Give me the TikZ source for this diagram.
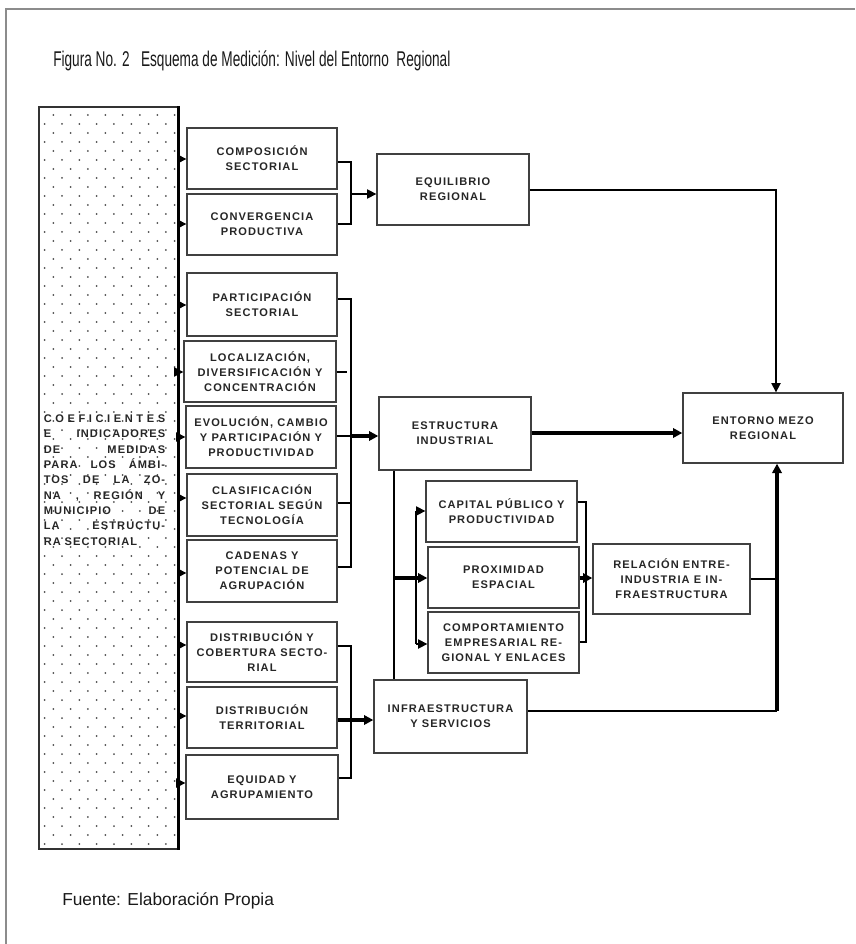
\documentclass[tikz,border=0pt]{standalone}
\usepackage{fontspec}
\setmainfont{Liberation Sans}
\newfontfamily\bxfont[LetterSpace=10]{Liberation Sans}
\usepackage{graphicx}
\usetikzlibrary{arrows.meta}
\tikzset{
  bx/.style={draw=black!75, line width=1pt, rectangle, inner sep=0pt, align=center,
    text=black!85, font=\bxfont\bfseries\fontsize{8.3}{11.25}\selectfont},
  sz/.style 2 args={minimum width=#1*0.75pt, minimum height=#2*0.75pt},
  ln/.style={line width=1.1pt, black},
  thk/.style={line width=2.3pt, black},
  arr/.style={-{Triangle[length=7pt,width=7pt]}},
  dotc/.style={fill=black!70},
}
\newcommand{\hf}{\hspace{0pt plus 1fill}}
\begin{document}
\begin{tikzpicture}[x=0.75pt,y=-0.75pt]
\useasboundingbox (0,0) rectangle (855,944);
% frame
\draw[black!45, line width=1.5pt] (6,944) -- (6,9) -- (855,9);
% title
\node[anchor=base west, inner sep=0pt, text=black!90] (title) at (53,67)
  {\scalebox{0.64}[1]{\fontsize{16}{18}\selectfont Figura No. 2\ \ \ Esquema de Medición: Nivel del Entorno\ \ Regional}};
% big left box
\node[draw=black!80, line width=1pt, rectangle, inner sep=0pt, sz={139}{742}] (L) at (108.5,478) {};
\foreach \j in {0,...,81}{
  \pgfmathsetmacro\yy{115+9*\j}
  \pgfmathsetmacro\xo{mod(\j,2)==0 ? 53.3 : 44.67}
  \foreach \k in {0,...,7}{
    \fill[dotc] ({\xo+17.33*\k},\yy) circle[radius=0.75pt];
  }
}
\draw[thk] (L.north east) -- (L.south east);
\node[inner sep=0pt, text width=91pt, text=black!85,
  font=\bxfont\bfseries\fontsize{8.3}{11.5}\selectfont] (Ltxt) at (104.5,480) {%
\makebox[\linewidth][s]{C\hf O\hf E\hf F\hf I\hf C\hf I\hf E\hf N\hf T\hf E\hf S}\\
\makebox[\linewidth][s]{E\hf INDICADORES}\\
\makebox[\linewidth][s]{DE\hf MEDIDAS}\\
\makebox[\linewidth][s]{PARA\hf LOS\hf ÁMBI-}\\
\makebox[\linewidth][s]{TOS\hf DE\hf LA\hf ZO-}\\
\makebox[\linewidth][s]{NA\hf ,\hf REGIÓN\hf Y}\\
\makebox[\linewidth][s]{MUNICIPIO\hf DE}\\
\makebox[\linewidth][s]{LA\hf ESTRUCTU-}\\
\makebox[\linewidth][l]{RA\ SECTORIAL}};
% small boxes column
\node[bx, sz={150}{61}] (c1) at (262,158.5) {COMPOSICIÓN\\SECTORIAL};
\node[bx, sz={150}{61}] (c2) at (262,224.5) {CONVERGENCIA\\PRODUCTIVA};
\node[bx, sz={150}{63}] (c3) at (262,304.5) {PARTICIPACIÓN\\SECTORIAL};
\node[bx, sz={152}{61}] (c4) at (260,371.5) {LOCALIZACIÓN,\\DIVERSIFICACIÓN Y\\CONCENTRACIÓN};
\node[bx, sz={150}{62}] (c5) at (261,437) {EVOLUCIÓN, CAMBIO\\Y PARTICIPACIÓN Y\\PRODUCTIVIDAD};
\node[bx, sz={150}{62}] (c6) at (262,505) {CLASIFICACIÓN\\SECTORIAL SEGÚN\\TECNOLOGÍA};
\node[bx, sz={150}{62}] (c7) at (262,571) {CADENAS Y\\POTENCIAL DE\\AGRUPACIÓN};
\node[bx, sz={150}{60}] (c8) at (262,652) {DISTRIBUCIÓN Y\\COBERTURA SECTO-\\RIAL};
\node[bx, sz={150}{61}] (c9) at (262,717.5) {DISTRIBUCIÓN\\TERRITORIAL};
\node[bx, sz={152}{64}] (c10) at (262,787) {EQUIDAD Y\\AGRUPAMIENTO};
% middle boxes
\node[bx, sz={152}{71}] (eq) at (453,189.5) {EQUILIBRIO\\REGIONAL};
\node[bx, sz={152}{73}] (est) at (455,433.5) {ESTRUCTURA\\INDUSTRIAL};
\node[bx, sz={153}{73}] (inf) at (450.5,716.5) {INFRAESTRUCTURA\\Y SERVICIOS};
\node[bx, sz={151}{61}] (cap) at (501.5,511.5) {CAPITAL PÚBLICO Y\\PRODUCTIVIDAD};
\node[bx, sz={151}{61}] (prox) at (503.5,577.5) {PROXIMIDAD\\ESPACIAL};
\node[bx, sz={151}{61}] (comp) at (503.5,642.5) {COMPORTAMIENTO\\EMPRESARIAL RE-\\GIONAL Y ENLACES};
\node[bx, sz={157}{70}] (rel) at (671.5,579) {RELACIÓN ENTRE-\\INDUSTRIA E IN-\\FRAESTRUCTURA};
\node[bx, sz={160}{70}] (ent) at (763,428) {ENTORNO MEZO\\REGIONAL};
% arrows from big box
\foreach \n/\yy in {c1/159,c2/224,c3/305,c4/372,c5/437,c6/498,c7/573,c8/645,c9/716,c10/783}
  \draw[ln,arr] (L.east |- 0,\yy) -- (\n.west |- 0,\yy);
% bracket A
\draw[ln] (c1.east |- 0,162) -| (351,224) -- (c2.east |- 0,224);
\draw[ln,arr] (351,194) -- (eq.west |- 0,194);
% bracket B
\draw[ln] (c3.east |- 0,299) -| (351,567) -- (c7.east |- 0,567);
\draw[ln] (c4.east |- 0,372) -- (347,372);
\draw[ln] (c5.east |- 0,436) -- (351,436);
\draw[thk,arr] (351,436) -- (est.west |- 0,436);
\draw[ln] (c6.east |- 0,503) -- (351,503);
% bracket C
\draw[ln] (c8.east |- 0,646) -| (351,778) -- (c10.east |- 0,778);
\draw[thk,arr] (c9.east |- 0,720) -- (inf.west |- 0,720);
% equilibrio -> entorno
\draw[ln,arr] (eq.east |- 0,190) -| (ent.north -| 776,0);
% estructura -> entorno
\draw[thk,arr] (est.east |- 0,433) -- (ent.west |- 0,433);
% estructura -> infraestructura vertical and branch
\draw[ln] (est.south -| 394,0) -- (inf.north -| 394,0);
\draw[thk] (394,578) -- (416,578);
\draw[ln] (416,511) -- (416,644);
\draw[thk,arr] (416,578) -- (prox.west |- 0,578);
\draw[ln,arr] (416,511) -- (cap.west |- 0,511);
\draw[ln,arr] (416,644) -- (comp.west |- 0,644);
% right bracket
\draw[ln] (cap.east |- 0,502) -| (586,642) -- (comp.east |- 0,642);
\draw[thk,arr] (prox.east |- 0,578) -- (rel.west |- 0,578);
\draw[ln] (rel.east |- 0,579) -- (777,579);
\draw[ln] (inf.east |- 0,711) -- (777,711);
\draw[thk,arr] (777,711) -- (ent.south -| 777,0);
% source
\node[anchor=base west, inner sep=0pt, text=black!90] (src) at (62,905)
  {\fontsize{13}{15}\selectfont Fuente: Elaboración Propia};
\end{tikzpicture}
\end{document}
